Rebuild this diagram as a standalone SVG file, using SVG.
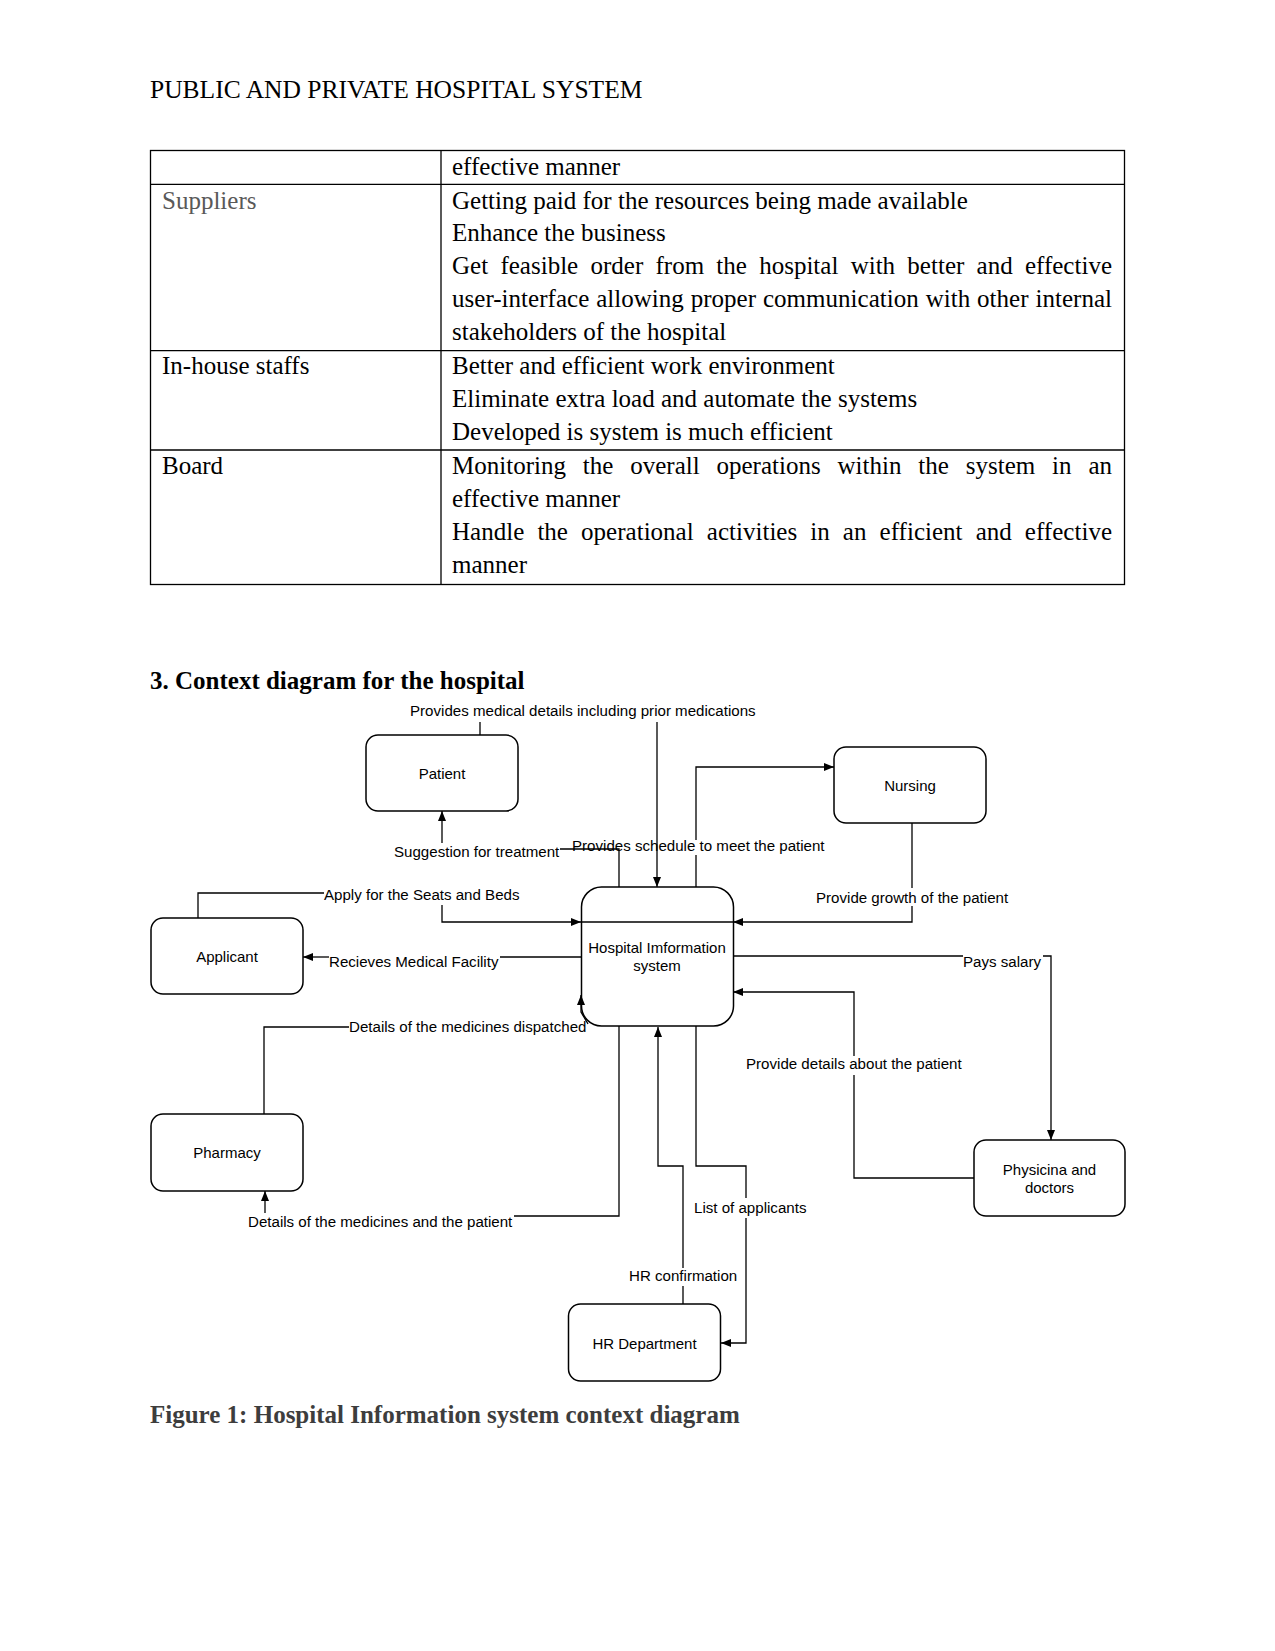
<svg xmlns="http://www.w3.org/2000/svg" width="1275" height="1651" viewBox="0 0 1275 1651">
<style>
.body{font-family:"Liberation Serif","Times New Roman",serif;font-size:25px;fill:#000}
.bold{font-weight:bold}
.grid{stroke:#000;stroke-width:1.3;fill:none}
.node{fill:#fff;stroke:#000;stroke-width:1.5}
.nt{font-family:"Liberation Sans",Arial,sans-serif;font-size:15px;fill:#000;text-anchor:middle}
.lbl{font-family:"Liberation Sans",Arial,sans-serif;font-size:15.1px;fill:#000}
.con{fill:none;stroke:#000;stroke-width:1.3}
.arr{marker-end:url(#arrow)}
</style>
<defs>
<marker id="arrow" markerUnits="userSpaceOnUse" markerWidth="11" markerHeight="9" refX="10" refY="4" orient="auto">
<path d="M0,0 L10,4 L0,8 z" fill="#000"/>
</marker>
</defs>
<rect width="1275" height="1651" fill="#fff"/>

<g id="page-header">
<text class="body" x="150" y="98" style="font-size:25.5px">PUBLIC AND PRIVATE HOSPITAL SYSTEM</text>
</g>

<g id="table">
<rect class="grid" x="150.5" y="150.5" width="974" height="434"/>
<line class="grid" x1="441" y1="150.5" x2="441" y2="584.5"/>
<line class="grid" x1="150.5" y1="184.3" x2="1124.5" y2="184.3"/>
<line class="grid" x1="150.5" y1="350.6" x2="1124.5" y2="350.6"/>
<line class="grid" x1="150.5" y1="450" x2="1124.5" y2="450"/>

<text class="body" x="452" y="175">effective manner</text>

<text class="body" x="162" y="209" style="fill:#595959">Suppliers</text>
<text class="body" x="452" y="208.5">Getting paid for the resources being made available</text>
<text class="body" x="452" y="241.3">Enhance the business</text>
<text class="body" x="452" y="274.1" style="word-spacing:6px" textLength="660" lengthAdjust="spacing">Get feasible order from the hospital with better and effective</text>
<text class="body" x="452" y="306.9" textLength="660" lengthAdjust="spacing" style="word-spacing:0.6px">user-interface allowing proper communication with other internal</text>
<text class="body" x="452" y="339.7">stakeholders of the hospital</text>

<text class="body" x="162" y="374">In-house staffs</text>
<text class="body" x="452" y="374">Better and efficient work environment</text>
<text class="body" x="452" y="407">Eliminate extra load and automate the systems</text>
<text class="body" x="452" y="440">Developed is system is much efficient</text>

<text class="body" x="162" y="474">Board</text>
<text class="body" x="452" y="474" style="word-spacing:10.6px" textLength="660" lengthAdjust="spacing">Monitoring the overall operations within the system in an</text>
<text class="body" x="452" y="507">effective manner</text>
<text class="body" x="452" y="540" style="word-spacing:6.8px" textLength="660" lengthAdjust="spacing">Handle the operational activities in an efficient and effective</text>
<text class="body" x="452" y="573">manner</text>
</g>

<g id="heading">
<text class="body bold" x="150" y="689">3. Context diagram for the hospital</text>
</g>

<g id="connectors">
<!-- Patient -> HIS : Provides medical details -->
<path class="con" d="M480,735 V722"/>
<path class="con arr" d="M657,722 V887"/>
<!-- HIS -> Patient : Suggestion for treatment -->
<path class="con" d="M619,887 V849 H560"/>
<path class="con arr" d="M442,843 V811"/>
<!-- HIS -> Nursing : Provides schedule -->
<path class="con" d="M696,887 V855"/>
<path class="con arr" d="M696,840 V767 H834"/>
<!-- Nursing -> HIS : Provide growth -->
<path class="con" d="M912,823 V888"/>
<path class="con arr" d="M912,906 V922 H733"/>
<!-- Applicant -> HIS : Apply for the Seats and Beds -->
<path class="con" d="M198,918 V893 H324"/>
<path class="con arr" d="M442,905 V922 H581"/>
<path class="con" d="M581,922 H733"/>
<!-- HIS -> Applicant : Recieves Medical Facility -->
<path class="con" d="M581,957 H500"/>
<path class="con arr" d="M329,957 H303"/>
<!-- HIS -> Physicians : Pays salary -->
<path class="con" d="M733,956 H963"/>
<path class="con arr" d="M1043,956 H1051 V1140"/>
<!-- Physicians -> HIS : Provide details about the patient -->
<path class="con" d="M974,1178 H854 V1075"/>
<path class="con arr" d="M854,1056 V992 H733"/>
<!-- Pharmacy -> HIS : Details of the medicines dispatched -->
<path class="con" d="M264,1114 V1027 H349"/>
<path class="con arr" d="M588,1024 L581,1012 V995"/>
<!-- HIS -> Pharmacy : Details of the medicines and the patient -->
<path class="con" d="M619,1026 V1216 H514"/>
<path class="con arr" d="M265,1213 V1191"/>
<!-- HR -> HIS : HR confirmation -->
<path class="con" d="M683,1304 V1286"/>
<path class="con arr" d="M683,1268 V1166 H658 V1027"/>
<!-- HIS -> HR : List of applicants -->
<path class="con" d="M696,1026 V1166 H746 V1198"/>
<path class="con arr" d="M746,1218 V1343 H721"/>

<text class="lbl" x="410" y="716">Provides medical details including prior medications</text>
<text class="lbl" x="394" y="857">Suggestion for treatment</text>
<text class="lbl" x="572" y="851">Provides schedule to meet the patient</text>
<text class="lbl" x="816" y="903">Provide growth of the patient</text>
<text class="lbl" x="324" y="900">Apply for the Seats and Beds</text>
<text class="lbl" x="329" y="967">Recieves Medical Facility</text>
<text class="lbl" x="963" y="967">Pays salary</text>
<text class="lbl" x="746" y="1069">Provide details about the patient</text>
<text class="lbl" x="349" y="1032">Details of the medicines dispatched</text>
<text class="lbl" x="248" y="1227">Details of the medicines and the patient</text>
<text class="lbl" x="694" y="1213">List of applicants</text>
<text class="lbl" x="629" y="1281">HR confirmation</text>
</g>

<g id="node-patient">
<rect class="node" x="366" y="735" width="152" height="76" rx="12"/>
<text class="nt" x="442" y="779">Patient</text>
</g>
<g id="node-nursing">
<rect class="node" x="834" y="747" width="152" height="76" rx="12"/>
<text class="nt" x="910" y="790.5">Nursing</text>
</g>
<g id="node-his">
<rect class="node" x="581.5" y="887" width="152" height="139" rx="20" style="fill:none"/>
<text class="nt" x="657" y="953">Hospital Imformation</text>
<text class="nt" x="657" y="971">system</text>
</g>
<g id="node-applicant">
<rect class="node" x="151" y="918" width="152" height="76" rx="12"/>
<text class="nt" x="227" y="961.5">Applicant</text>
</g>
<g id="node-pharmacy">
<rect class="node" x="151" y="1114" width="152" height="77" rx="12"/>
<text class="nt" x="227" y="1158">Pharmacy</text>
</g>
<g id="node-physicians">
<rect class="node" x="974" y="1140" width="151" height="76" rx="12"/>
<text class="nt" x="1049.5" y="1175">Physicina and</text>
<text class="nt" x="1049.5" y="1193">doctors</text>
</g>
<g id="node-hr">
<rect class="node" x="568.5" y="1304" width="152" height="77" rx="12"/>
<text class="nt" x="644.5" y="1349">HR Department</text>
</g>

<g id="caption">
<text class="body bold" x="150" y="1423" style="fill:#3d3d3d">Figure 1: Hospital Information system context diagram</text>
</g>
</svg>
